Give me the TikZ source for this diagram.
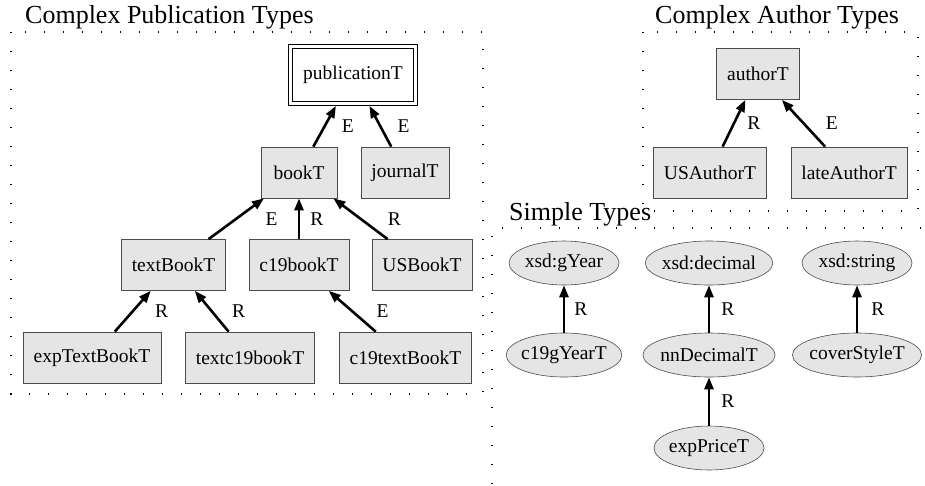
\documentclass[tikz,border=0pt]{standalone}
\usepackage{fontspec}
\setmainfont{Liberation Serif}
\usepackage{tikz}
\usetikzlibrary{shapes.geometric, arrows.meta, positioning}
\definecolor{typegray}{rgb}{0.9, 0.9, 0.9}
\tikzstyle{typebox} = [rectangle, draw=black!70, line width=0.7pt, fill=typegray, minimum height=51pt, minimum width=70pt, inner xsep=10.5pt, font=\fontsize{19.5}{22}\selectfont]
\tikzstyle{rootbox} = [rectangle, draw=black, double, double distance=3pt, line width=0.9pt, outer sep=2.4pt, minimum width=125pt, minimum height=57pt, font=\fontsize{19.5}{22}\selectfont]
\tikzstyle{simple} = [ellipse, draw=black!70, line width=0.6pt, fill=typegray, minimum width=110pt, minimum height=44pt, inner xsep=-2pt, inner ysep=0pt, font=\fontsize{19.5}{22}\selectfont]
\tikzstyle{cluster} = [line width=1.2pt, dash pattern=on 1.4pt off 17.6pt]
\tikzstyle{title} = [anchor=base west, inner sep=0pt, font=\fontsize{26}{30}\selectfont]
\tikzstyle{arrow} = [line width=2.6pt, ->]
\tikzstyle{lbl} = [midway, anchor=west, inner sep=0pt, font=\fontsize{19.5}{22}\selectfont]

\begin{document}
\begin{tikzpicture}[>={Triangle[length=12pt,width=9pt]}, x=1pt, y=-1pt]
\useasboundingbox (0,0) rectangle (925,485);

% clusters
\draw[cluster] (11,32) rectangle (483,394);
\draw[cluster] (643,32) rectangle (918,211);
\draw[cluster] (940,228) -- (492,228) -- (492,500);
\node[title] (pubtitle) at (25,23) {Complex Publication Types};
\node[title] (authtitle) at (655,23) {Complex Author Types};
\node[title] (simpletitle) at (509,220) {Simple Types};

% publication types
\node[rootbox] (publicationT) at (353,75) {publicationT};
\node[typebox, minimum width=76pt] (bookT) at (299,172.5) {bookT};
\node[typebox] (journalT) at (405,172.5) {journalT};
\node[typebox] (textBookT) at (173.5,265) {textBookT};
\node[typebox] (c19bookT) at (299,265) {c19bookT};
\node[typebox] (USBookT) at (422,265) {USBookT};
\node[typebox] (expTextBookT) at (92,357.5) {expTextBookT};
\node[typebox] (textc19bookT) at (250,357.5) {textc19bookT};
\node[typebox] (c19textBookT) at (405.5,357.5) {c19textBookT};

\draw[arrow] (bookT) -- (publicationT) node[lbl, xshift=16pt] {E};
\draw[arrow] (journalT) -- (publicationT) node[lbl, xshift=16pt] {E};
\draw[arrow] (textBookT) -- (bookT) node[lbl, xshift=28pt] {E};
\draw[arrow] (c19bookT) -- (bookT) node[lbl, xshift=10pt] {R};
\draw[arrow] (USBookT) -- (bookT) node[lbl, xshift=26pt] {R};
\draw[arrow] (expTextBookT) -- (textBookT) node[lbl, xshift=21pt] {R};
\draw[arrow] (textc19bookT) -- (textBookT) node[lbl, xshift=19pt] {R};
\draw[arrow] (c19textBookT) -- (c19bookT) node[lbl, xshift=23pt] {E};

% author types
\node[typebox] (authorT) at (758,74) {authorT};
\node[typebox] (USAuthorT) at (710,172.5) {USAuthorT};
\node[typebox] (lateAuthorT) at (849,172.5) {lateAuthorT};

\draw[arrow] (USAuthorT) -- (authorT) node[lbl, xshift=12pt] {R};
\draw[arrow] (lateAuthorT) -- (authorT) node[lbl, xshift=21pt] {E};

% simple types
\node[simple] (xsdgYear) at (564,263) {xsd:gYear};
\node[simple] (xsddecimal) at (709,263) {xsd:decimal};
\node[simple] (xsdstring) at (857,263) {xsd:string};
\node[simple] (c19gYearT) at (564,355) {c19gYearT};
\node[simple] (nnDecimalT) at (709,355) {nnDecimalT};
\node[simple] (coverStyleT) at (857,355) {coverStyleT};
\node[simple] (expPriceT) at (709,448) {expPriceT};

\draw[arrow] (c19gYearT) -- (xsdgYear) node[lbl, xshift=9pt] {R};
\draw[arrow] (nnDecimalT) -- (xsddecimal) node[lbl, xshift=11pt] {R};
\draw[arrow] (coverStyleT) -- (xsdstring) node[lbl, xshift=13pt] {R};
\draw[arrow] (expPriceT) -- (nnDecimalT) node[lbl, xshift=11pt] {R};
\end{tikzpicture}
\end{document}
